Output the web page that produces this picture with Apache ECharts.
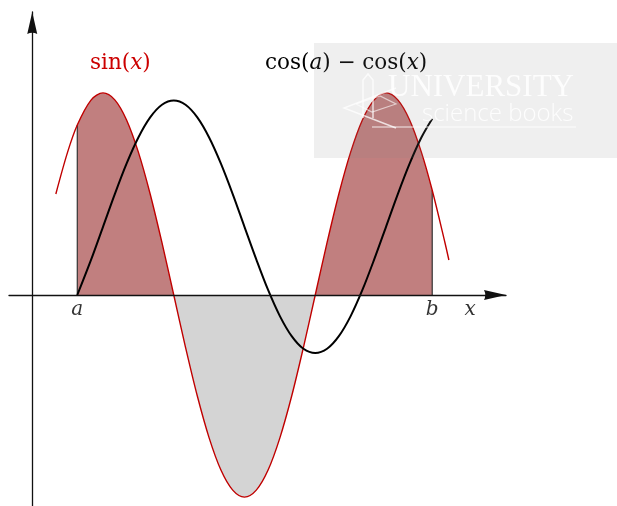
<!DOCTYPE html>
<html>
<head>
<meta charset="utf-8">
<script src="https://cdn.jsdelivr.net/npm/echarts@6/dist/echarts.min.js"></script>
<style>
  html, body { margin: 0; padding: 0; background: #ffffff; }
  #chart { width: 617px; height: 506px; }
</style>
</head>
<body>
<div id="chart"></div>
<script>
// Bounds of the shaded interval [a, b]
const A = 1.0;
const B = 8.88;

// The red curve (scaled sine), sampled
const sinX = [0.524, 0.785, 1.0, 1.309, 1.571, 1.833, 2.094, 2.356, 2.618, 2.880,
              3.142, 3.403, 3.665, 3.927, 4.189, 4.451, 4.712, 4.974, 5.236, 5.498,
              5.760, 6.021, 6.283, 6.545, 6.807, 7.069, 7.330, 7.592, 7.854, 8.116,
              8.378, 8.639, 8.88, 9.163, 9.25];
const sinY = [0.8, 1.131, 1.346, 1.545, 1.6, 1.545, 1.386, 1.131, 0.8, 0.414,
              0, -0.414, -0.8, -1.131, -1.386, -1.545, -1.6, -1.545, -1.386, -1.131,
              -0.8, -0.414, 0, 0.414, 0.8, 1.131, 1.386, 1.545, 1.6, 1.545,
              1.386, 1.131, 0.829, 0.414, 0.277];

// The black curve cos(a) - cos(x) on [a, b]
const cosX = [1.0, 1.309, 1.571, 1.833, 2.094, 2.356, 2.618, 2.880, 3.142, 3.403,
              3.665, 3.927, 4.189, 4.451, 4.712, 4.974, 5.236, 5.498, 5.760, 6.021,
              6.283, 6.545, 6.807, 7.069, 7.330, 7.592, 7.854, 8.116, 8.378, 8.639,
              8.88];
const cosY = [0, 0.282, 0.540, 0.799, 1.040, 1.247, 1.406, 1.506, 1.540, 1.506,
              1.406, 1.247, 1.040, 0.799, 0.540, 0.282, 0.040, -0.167, -0.326, -0.426,
              -0.460, -0.426, -0.326, -0.167, 0.040, 0.282, 0.540, 0.799, 1.040, 1.247,
              1.396];

// Labels set along the horizontal axis
const axisMarkX = [A, B, 9.72];
const axisMarkText = ['a', 'b', 'x'];

const sinPts = sinX.map((x, i) => [x, sinY[i]]);
const cosPts = cosX.map((x, i) => [x, cosY[i]]);
const yAtA = sinY[sinX.indexOf(A)];
const yAtB = sinY[sinX.indexOf(B)];

// Sign changes of the sine inside [a, b] split the shaded region into pieces
const zeros = sinX.filter((x, i) => sinY[i] === 0 && x > A && x < B);
const breaks = [A].concat(zeros, [B]);
const pieces = [];
for (let k = 0; k < breaks.length - 1; k++) {
  const lo = breaks[k], hi = breaks[k + 1];
  const pts = sinPts.filter(p => p[0] >= lo && p[0] <= hi);
  const positive = pts.some(p => p[1] > 0);
  pieces.push({ pts, positive });
}

const SMOOTH = 0.33;
const ARROW = 'path://M5,0 L10,22 Q5,19.5 0,22 Z';
const SERIF = 'DejaVu Serif';
const RED_FILL = '#c17f7f';
const GREY_FILL = '#d4d4d4';

const axisLineStyle = { color: '#111', width: 1.3 };

const fillSeries = pieces.map(pc => ({
  type: 'line',
  data: pc.pts,
  smooth: SMOOTH,
  showSymbol: false,
  silent: true,
  lineStyle: { width: 0 },
  areaStyle: { color: pc.positive ? RED_FILL : GREY_FILL, opacity: 1 },
  z: 1
}));

const chart = echarts.init(document.getElementById('chart'), null, { renderer: 'canvas' });

chart.setOption({
  animation: false,
  backgroundColor: '#ffffff',
  grid: { left: 9, right: 111, top: 12, bottom: 0, containLabel: false, outerBoundsMode: 'none' },
  xAxis: {
    type: 'value',
    min: -0.516,
    max: 10.518,
    z: 10,
    axisLine: {
      onZero: true,
      symbol: ['none', ARROW],
      symbolSize: [13, 22],
      symbolOffset: [0, -11],
      lineStyle: axisLineStyle
    },
    axisTick: { show: false },
    splitLine: { show: false },
    axisLabel: { show: false }
  },
  yAxis: {
    type: 'value',
    min: -1.6706,
    max: 2.2407,
    z: 10,
    axisLine: {
      onZero: true,
      symbol: ['none', ARROW],
      symbolSize: [12, 22],
      symbolOffset: [0, -11],
      lineStyle: axisLineStyle
    },
    axisTick: { show: false },
    splitLine: { show: false },
    axisLabel: { show: false }
  },
  series: fillSeries.concat([
    {
      type: 'line',
      data: [[A, 0], [A, yAtA]],
      showSymbol: false,
      silent: true,
      lineStyle: { color: '#333', width: 1.2 },
      z: 2
    },
    {
      type: 'line',
      data: [[B, 0], [B, yAtB]],
      showSymbol: false,
      silent: true,
      lineStyle: { color: '#333', width: 1.2 },
      z: 2
    },
    {
      type: 'line',
      data: sinPts,
      smooth: SMOOTH,
      showSymbol: false,
      silent: true,
      lineStyle: { color: '#c00000', width: 1.4 },
      z: 3
    },
    {
      type: 'line',
      data: cosPts,
      smooth: SMOOTH,
      showSymbol: false,
      silent: true,
      lineStyle: { color: '#000', width: 2 },
      z: 4
    },
    {
      type: 'scatter',
      data: axisMarkX.map((x, i) => ({ value: [x, 0], name: axisMarkText[i] })),
      symbolSize: 0,
      silent: true,
      z: 5,
      label: {
        show: true,
        position: 'bottom',
        distance: 5,
        formatter: p => p.name,
        fontFamily: SERIF,
        fontStyle: 'italic',
        fontSize: 20,
        color: '#000'
      }
    }
  ]),
  graphic: [
    {
      type: 'text',
      left: 90,
      top: 52,
      z: 50,
      style: {
        text: '{r|sin(}{i|x}{r|)}',
        rich: {
          r: { fontFamily: SERIF, fontSize: 21.5, fill: '#cc0000' },
          i: { fontFamily: SERIF, fontStyle: 'italic', fontSize: 21.5, fill: '#cc0000' }
        }
      }
    },
    {
      type: 'text',
      left: 265,
      top: 52,
      z: 50,
      style: {
        text: '{r|cos(}{i|a}{r|) \u2212 cos(}{i|x}{r|)}',
        rich: {
          r: { fontFamily: SERIF, fontSize: 21.5, fill: '#000' },
          i: { fontFamily: SERIF, fontStyle: 'italic', fontSize: 21.5, fill: '#000' }
        }
      }
    },
    {
      type: 'group',
      z: 100,
      children: [
        {
          type: 'rect',
          shape: { x: 314, y: 43, width: 303, height: 115 },
          style: { fill: 'rgba(128,128,128,0.13)' },
          z: 100
        },
        {
          type: 'polyline',
          shape: { points: [[396, 88], [344, 108], [396, 128]] },
          style: { stroke: 'rgba(255,255,255,0.75)', lineWidth: 1.5, fill: null },
          z: 101
        },
        {
          type: 'polyline',
          shape: { points: [[363, 118], [363, 80], [368, 74], [373, 80], [373, 118]] },
          style: { stroke: 'rgba(255,255,255,0.75)', lineWidth: 1.5, fill: null },
          z: 101
        },
        {
          type: 'polyline',
          shape: { points: [[356, 104], [380, 96], [396, 104], [372, 112], [356, 104]] },
          style: { stroke: 'rgba(255,255,255,0.6)', lineWidth: 1.2, fill: null },
          z: 101
        },
        {
          type: 'line',
          shape: { x1: 372, y1: 127, x2: 576, y2: 127 },
          style: { stroke: 'rgba(255,255,255,0.85)', lineWidth: 1 },
          z: 101
        },
        {
          type: 'text',
          x: 388,
          y: 88,
          z: 101,
          style: {
            text: 'UNIVERSITY',
            font: '31px "Liberation Serif"',
            fill: 'rgba(255,255,255,0.85)',
            verticalAlign: 'middle'
          }
        },
        {
          type: 'text',
          x: 422,
          y: 114,
          z: 101,
          style: {
            text: 'science books',
            font: '300 24px "Open Sans"',
            fill: 'rgba(255,255,255,0.85)',
            verticalAlign: 'middle'
          }
        }
      ]
    }
  ]
});
</script>
</body>
</html>
